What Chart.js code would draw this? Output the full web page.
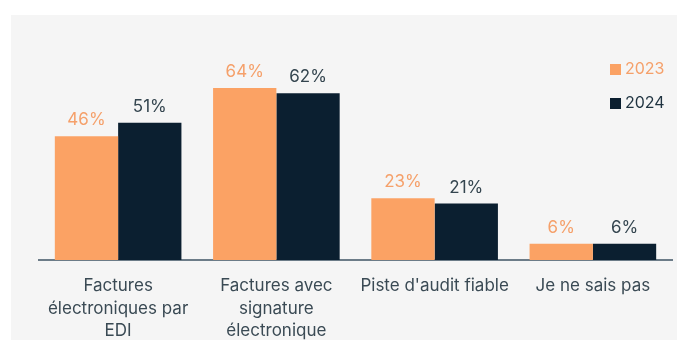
<!DOCTYPE html>
<html>
<head>
<meta charset="utf-8">
<script src="https://cdn.jsdelivr.net/npm/chart.js@4"></script>
<style>
    html, body { margin: 0; padding: 0; background: #ffffff; }
    body { width: 677px; height: 340px; position: relative; overflow: hidden; }
    .panel {
        position: absolute;
        left: 11px;
        top: 15px;
        width: 666px;
        height: 325px;
        background: #f5f5f5;
    }
</style>
</head>
<body>
<div class="panel">
    <canvas id="barChart" width="666" height="325"></canvas>
</div>
<script>
const categories = [
    ['Factures', 'électroniques par', 'EDI'],
    ['Factures avec', 'signature', 'électronique'],
    "Piste d'audit fiable",
    'Je ne sais pas'
];
const seriesLabels = ['2023', '2024'];
const values2023 = [46, 64, 23, 6];
const values2024 = [51, 62, 21, 6];

const barColors = ['#fba264', '#0b1f30'];
const textColors = ['#f5a06a', '#34454f'];
const fontFamily = 'Inter, "Noto Sans", sans-serif';

// étiquettes de valeur au-dessus des barres
const valueLabels = {
    id: 'valueLabels',
    afterDatasetsDraw(chart) {
        const ctx = chart.ctx;
        ctx.save();
        ctx.font = '17px ' + fontFamily;
        ctx.textAlign = 'center';
        ctx.textBaseline = 'middle';
        chart.data.datasets.forEach((ds, i) => {
            const meta = chart.getDatasetMeta(i);
            ctx.fillStyle = textColors[i];
            meta.data.forEach((bar, j) => {
                ctx.fillText(ds.data[j] + '%', bar.x, bar.y - 16);
            });
        });
        ctx.restore();
    }
};

// légende à droite, par-dessus la zone du graphique
const sideLegend = {
    id: 'sideLegend',
    afterDraw(chart) {
        const ctx = chart.ctx;
        ctx.save();
        ctx.font = '16px ' + fontFamily;
        ctx.textBaseline = 'middle';
        chart.data.datasets.forEach((ds, i) => {
            const y = 54 + i * 34;
            ctx.fillStyle = barColors[i];
            ctx.fillRect(599, y - 5, 11, 11);
            ctx.fillStyle = i === 0 ? textColors[0] : '#1f3340';
            ctx.fillText(ds.label, 614, y);
        });
        ctx.restore();
    }
};

new Chart(document.getElementById('barChart').getContext('2d'), {
    type: 'bar',
    data: {
        labels: categories,
        datasets: [
            {
                label: seriesLabels[0],
                data: values2023,
                backgroundColor: barColors[0],
                categoryPercentage: 0.8,
                barPercentage: 1.0
            },
            {
                label: seriesLabels[1],
                data: values2024,
                backgroundColor: barColors[1],
                categoryPercentage: 0.8,
                barPercentage: 1.0
            }
        ]
    },
    options: {
        responsive: false,
        animation: false,
        layout: { padding: { left: 28, right: 5, top: 3, bottom: 0 } },
        plugins: {
            legend: { display: false },
            tooltip: { enabled: false }
        },
        scales: {
            x: {
                grid: { display: false },
                border: { display: true, color: '#6c7c88', width: 2 },
                ticks: {
                    color: '#3a4a54',
                    font: { family: fontFamily, size: 17, lineHeight: 1.35 },
                    padding: 6,
                    maxRotation: 0,
                    autoSkip: false
                },
                afterFit(scale) { scale.height = 80; }
            },
            y: {
                display: false,
                min: 0,
                max: 90
            }
        }
    },
    plugins: [valueLabels, sideLegend]
});
</script>
</body>
</html>
